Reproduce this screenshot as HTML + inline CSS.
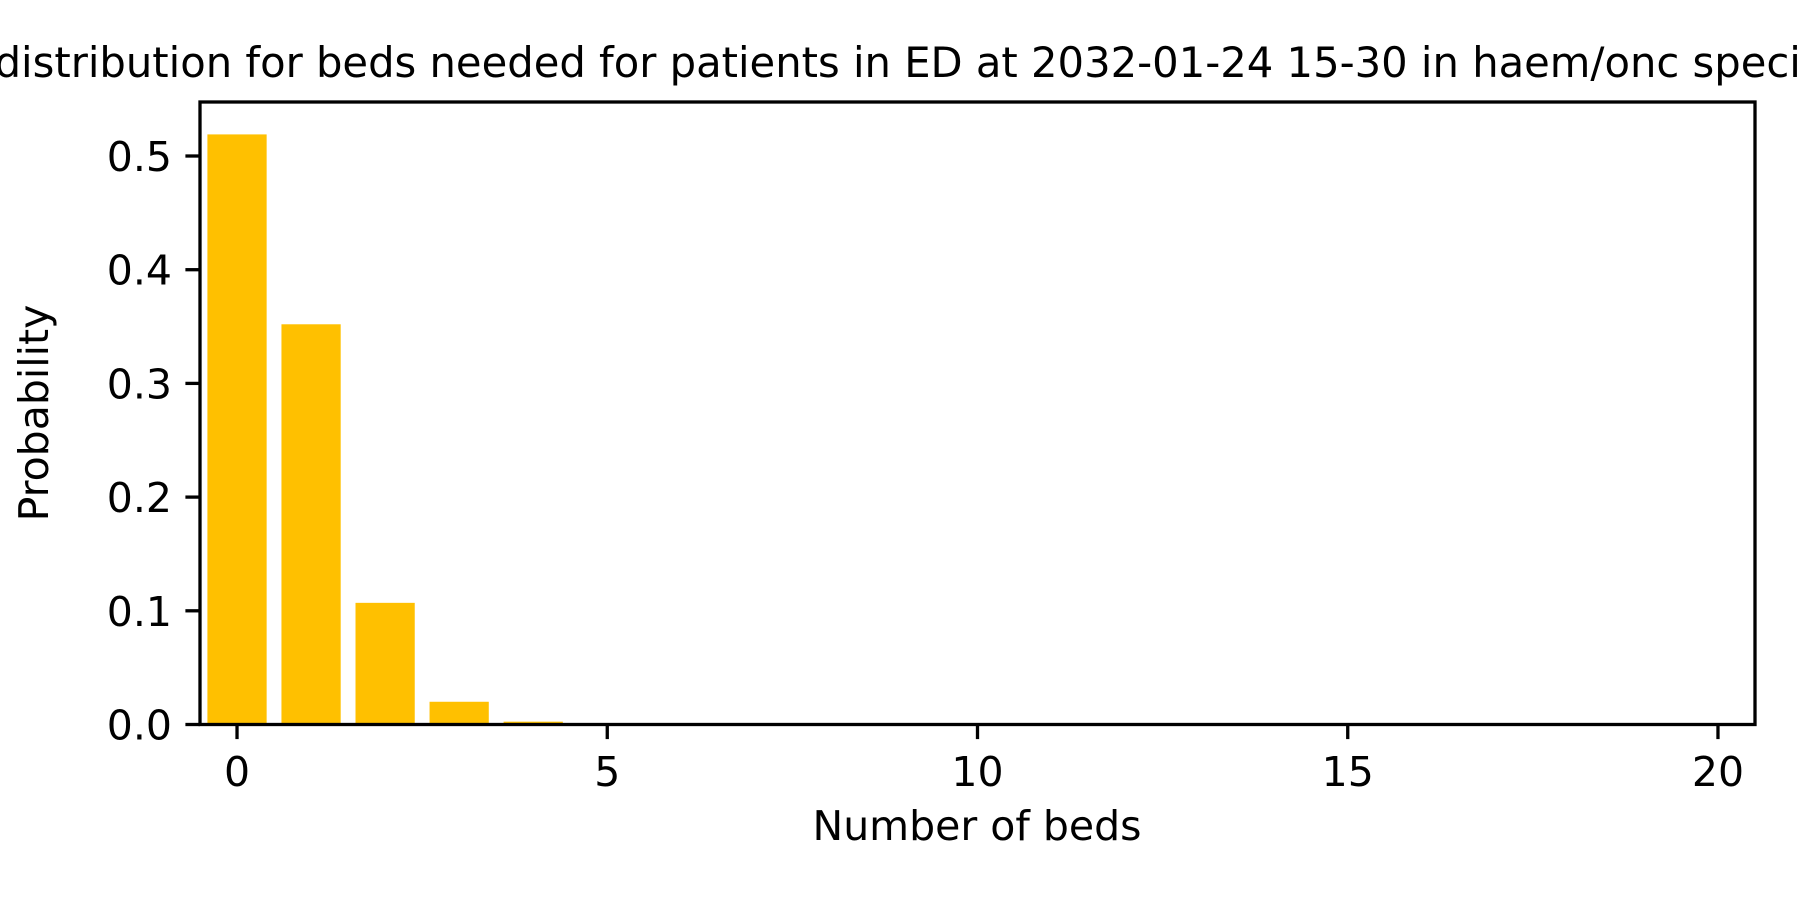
<!DOCTYPE html>
<html><head><meta charset="utf-8"><style>body{margin:0;background:#fff}svg{display:block}text{font-family:"DejaVu Sans","Liberation Sans",sans-serif;fill:#000}</style></head>
<body>
<svg id="chart" width="1800" height="900" viewBox="0 0 1800 900">
<text x="820" y="77" font-size="41.7" text-anchor="middle">Probability distribution for beds needed for patients in ED at 2032-01-24 15-30 in haem/onc specialty</text>
<g id="bars"></g>
<g id="axes"></g>
<rect x="200" y="102" width="1555" height="622.5" fill="none" stroke="#000" stroke-width="3.3"/>
<text x="977" y="840" font-size="41" text-anchor="middle">Number of beds</text>
<text transform="translate(48,413) rotate(-90)" font-size="41" text-anchor="middle">Probability</text>
</svg>
<script>
const categories = [0,1,2,3,4,5,6,7,8,9,10,11,12,13,14,15,16,17,18,19,20];
const probabilities = [0.519,0.352,0.107,0.020,0.0025,0.0002,0,0,0,0,0,0,0,0,0,0,0,0,0,0,0];
const xTicks = [0,5,10,15,20];
const yTicks = [0.0,0.1,0.2,0.3,0.4,0.5];
const yTickLabels = ["0.0","0.1","0.2","0.3","0.4","0.5"];
const X0=200,X1=1755,Y0=724.5,Y1=102,xmin=-0.5,xmax=20.5,ymin=0,ymax=0.5475;
const sx=v=>X0+(v-xmin)/(xmax-xmin)*(X1-X0);
const sy=v=>Y0-(v-ymin)/(ymax-ymin)*(Y0-Y1);
const NS="http://www.w3.org/2000/svg";
const bars=document.getElementById('bars'),axes=document.getElementById('axes');
categories.forEach((c,i)=>{
  const r=document.createElementNS(NS,'rect');
  r.setAttribute('x',sx(c-0.4));r.setAttribute('width',sx(c+0.4)-sx(c-0.4));
  r.setAttribute('y',sy(probabilities[i]));r.setAttribute('height',Math.max(0,Y0-sy(probabilities[i])));
  r.setAttribute('fill','#ffc000');
  
  
  bars.appendChild(r);
});
xTicks.forEach(t=>{
  const l=document.createElementNS(NS,'line');
  l.setAttribute('x1',sx(t));l.setAttribute('x2',sx(t));l.setAttribute('y1',Y0);l.setAttribute('y2',Y0+14.6);
  l.setAttribute('stroke','#000');l.setAttribute('stroke-width','3.3');
  
  
  axes.appendChild(l);
  const tx=document.createElementNS(NS,'text');
  tx.setAttribute('x',sx(t));tx.setAttribute('y',786);tx.setAttribute('font-size','41');tx.setAttribute('text-anchor','middle');
  tx.textContent=t;
  
  
  axes.appendChild(tx);
});
yTicks.forEach((t,i)=>{
  const l=document.createElementNS(NS,'line');
  l.setAttribute('x1',X0-14.6);l.setAttribute('x2',X0);l.setAttribute('y1',sy(t));l.setAttribute('y2',sy(t));
  l.setAttribute('stroke','#000');l.setAttribute('stroke-width','3.3');
  
  
  axes.appendChild(l);
  const tx=document.createElementNS(NS,'text');
  tx.setAttribute('x',X0-28);tx.setAttribute('y',sy(t)+15);tx.setAttribute('font-size','41');tx.setAttribute('text-anchor','end');
  tx.textContent=yTickLabels[i];
  
  
  axes.appendChild(tx);
});
</script>
</body></html>
